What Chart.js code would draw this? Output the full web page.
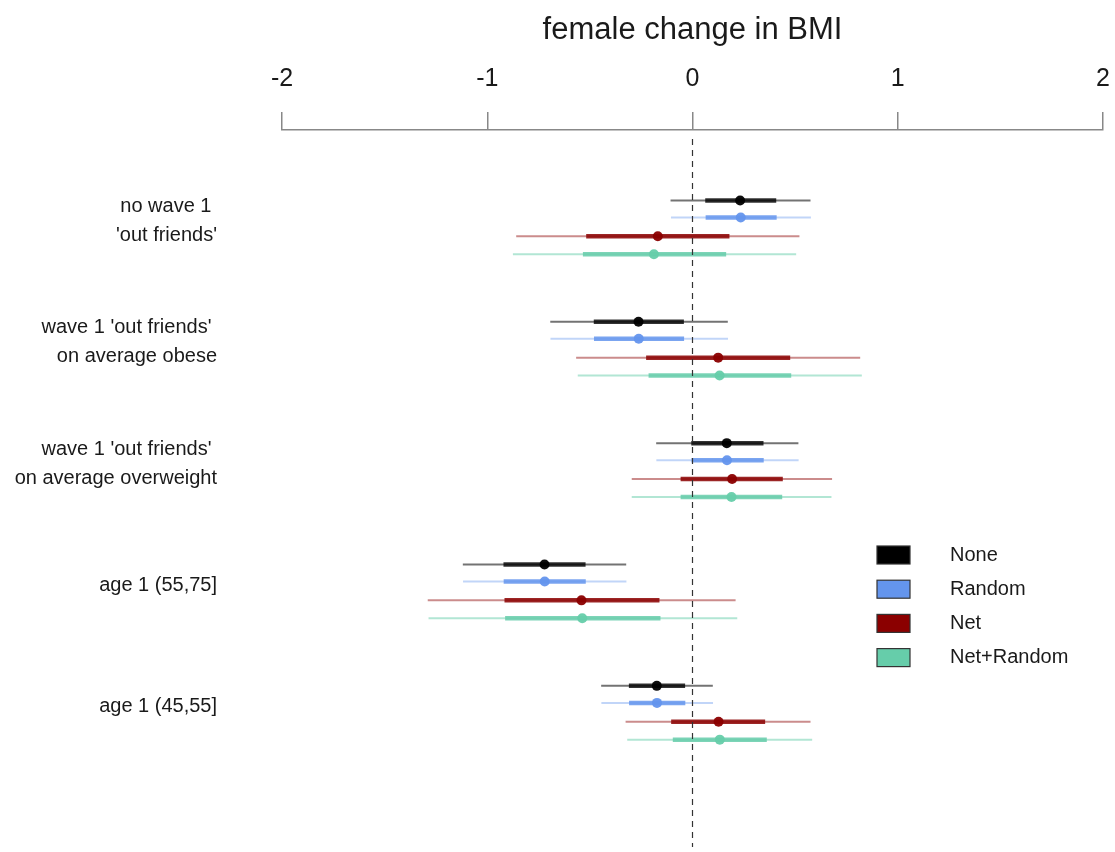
<!DOCTYPE html>
<html>
<head>
<meta charset="utf-8">
<script src="https://cdn.jsdelivr.net/npm/chart.js@4/dist/chart.umd.min.js"></script>
<style>
  body { margin: 0; background: #fff; }
  #wrap { width: 1115px; height: 852px; }
</style>
</head>
<body>
<div id="wrap"><canvas id="bmiChart"></canvas></div>
<script>
// group labels (top to bottom)
const groupLabels = [
  ['no wave 1 ', "'out friends'"],
  ["wave 1 'out friends' ", 'on average obese'],
  ["wave 1 'out friends' ", 'on average overweight'],
  'age 1 (55,75]',
  'age 1 (45,55]'
];
const seriesNames = ['None', 'Random', 'Net', 'Net+Random'];
const seriesColors = ['0,0,0', '100,149,237', '139,0,0', '102,205,170'];
const xTicks = [-2, -1, 0, 1, 2];

// point estimates per group
const noneEst = [0.232, -0.263, 0.167, -0.721, -0.174];
const randomEst = [0.235, -0.262, 0.168, -0.720, -0.173];
const netEst = [-0.169, 0.125, 0.193, -0.541, 0.127];
const netRandomEst = [-0.188, 0.132, 0.190, -0.537, 0.133];

// wide intervals (thin lines)
const noneLo = [-0.107, -0.693, -0.177, -1.119, -0.445];
const noneHi = [0.575, 0.172, 0.516, -0.323, 0.099];
const randomLo = [-0.105, -0.692, -0.176, -1.118, -0.444];
const randomHi = [0.577, 0.173, 0.517, -0.322, 0.100];
const netLo = [-0.859, -0.567, -0.296, -1.290, -0.326];
const netHi = [0.521, 0.817, 0.680, 0.210, 0.575];
const netRandomLo = [-0.875, -0.559, -0.296, -1.286, -0.318];
const netRandomHi = [0.505, 0.825, 0.677, 0.218, 0.583];

// narrow intervals (thick lines)
const noneLoIn = [0.062, -0.481, -0.006, -0.921, -0.310];
const noneHiIn = [0.408, -0.042, 0.346, -0.521, -0.036];
const randomLoIn = [0.064, -0.480, -0.005, -0.920, -0.309];
const randomHiIn = [0.410, -0.041, 0.347, -0.520, -0.035];
const netLoIn = [-0.518, -0.226, -0.058, -0.916, -0.104];
const netHiIn = [0.180, 0.476, 0.440, -0.161, 0.354];
const netRandomLoIn = [-0.534, -0.214, -0.058, -0.913, -0.096];
const netRandomHiIn = [0.164, 0.481, 0.437, -0.156, 0.362];

const est = [noneEst, randomEst, netEst, netRandomEst];
const lo = [noneLo, randomLo, netLo, netRandomLo];
const hi = [noneHi, randomHi, netHi, netRandomHi];
const loIn = [noneLoIn, randomLoIn, netLoIn, netRandomLoIn];
const hiIn = [noneHiIn, randomHiIn, netHiIn, netRandomHiIn];

// vertical layout in row units
const groupStep = 6.77;
const rowOffsets = [0, 0.95, 2, 3];
const yMin = -3.93, yMax = 36.07;
const rowY = (g, s) => g * groupStep + rowOffsets[s];
const labelY = groupLabels.map((_, g) => g * groupStep + 1.15);

function segments(loArr, hiArr, s) {
  const pts = [];
  loArr.forEach((v, g) => {
    pts.push({x: v, y: rowY(g, s)}, {x: hiArr[g], y: rowY(g, s)}, {x: NaN, y: NaN});
  });
  return pts;
}

const thinAlpha = [0.55, 0.4, 0.45, 0.5];
const thickAlpha = [0.8, 0.85, 0.85, 0.85];

const datasets = [];
seriesNames.forEach((name, s) => {
  datasets.push({
    type: 'line', label: name + ' wide', data: segments(lo[s], hi[s], s),
    borderColor: `rgba(${seriesColors[s]},${thinAlpha[s]})`, borderWidth: 2,
    pointRadius: 0, spanGaps: false, order: 3
  });
  datasets.push({
    type: 'line', label: name + ' narrow', data: segments(loIn[s], hiIn[s], s),
    borderColor: `rgba(${seriesColors[s]},${thickAlpha[s]})`, borderWidth: 4.5,
    pointRadius: 0, spanGaps: false, order: 2
  });
  datasets.push({
    type: 'scatter', label: name, data: est[s].map((v, g) => ({x: v, y: rowY(g, s)})),
    backgroundColor: `rgba(${seriesColors[s]},0.95)`, borderWidth: 0,
    pointRadius: 5, order: 1
  });
});
datasets.push({
  type: 'line', label: 'zero', data: [{x: 0, y: yMin + 0.5}, {x: 0, y: yMax}],
  borderColor: '#333', borderWidth: 1.2, borderDash: [6, 5], pointRadius: 0, order: 0
});

const legendPlugin = {
  id: 'boxLegend',
  afterDraw(chart) {
    const ctx = chart.ctx;
    ctx.save();
    ctx.font = '20px "Liberation Sans", Arial, sans-serif';
    ctx.textBaseline = 'middle';
    seriesNames.forEach((name, i) => {
      const y = 555 + i * 34.2;
      ctx.fillStyle = `rgb(${seriesColors[i]})`;
      ctx.fillRect(877, y - 9, 33, 18);
      ctx.strokeStyle = '#333';
      ctx.lineWidth = 1.2;
      ctx.strokeRect(877, y - 9, 33, 18);
      ctx.fillStyle = '#1a1a1a';
      ctx.fillText(name, 950, y);
    });
    ctx.restore();
  }
};

new Chart(document.getElementById('bmiChart'), {
  type: 'line',
  data: { datasets: datasets },
  options: {
    responsive: true,
    maintainAspectRatio: false,
    animation: false,
    layout: { padding: { left: 0, right: 12, top: 0, bottom: 0 } },
    plugins: { legend: { display: false }, tooltip: { enabled: false } },
    scales: {
      x: {
        type: 'linear', position: 'top', min: -2, max: 2,
        afterBuildTicks: (scale) => { scale.ticks = xTicks.map(v => ({value: v})); },
        afterFit: (scale) => {
          scale.height = 130;
          scale.paddingLeft = 0; scale.paddingRight = 0;
        },
        ticks: { color: '#1a1a1a', padding: 18, font: { size: 25, family: '"Liberation Sans", Arial, sans-serif' } },
        grid: { drawOnChartArea: false, color: '#888', lineWidth: 1.5, tickLength: 18 },
        border: { display: true, color: '#888', width: 1.5 },
        title: {
          display: true, text: 'female change in BMI', color: '#1a1a1a',
          padding: { top: 12, bottom: 0 },
          font: { size: 31, family: '"Liberation Sans", Arial, sans-serif' }
        }
      },
      y: {
        type: 'linear', reverse: true, min: yMin, max: yMax,
        afterBuildTicks: (scale) => { scale.ticks = labelY.map(v => ({value: v})); },
        afterFit: (scale) => {
          scale.width = 282;
          scale.paddingTop = 0; scale.paddingBottom = 0;
        },
        ticks: {
          color: '#1a1a1a', padding: 65,
          font: { size: 20, lineHeight: 1.45, family: '"Liberation Sans", Arial, sans-serif' },
          callback: (v, i) => groupLabels[i]
        },
        grid: { display: false, drawTicks: false },
        border: { display: false }
      }
    }
  },
  plugins: [legendPlugin]
});
</script>
</body>
</html>
